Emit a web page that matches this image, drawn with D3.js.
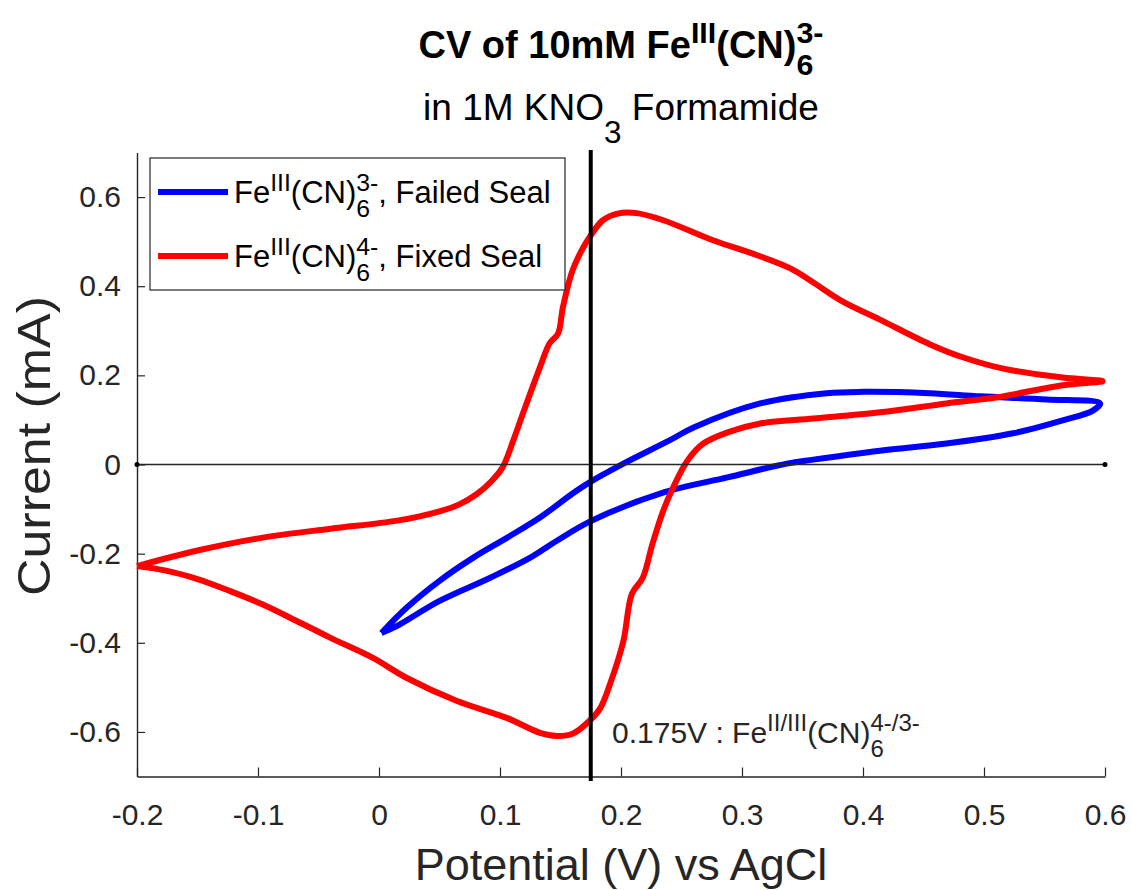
<html>
<head>
  <meta charset="utf-8"/>
  <script src="https://cdn.jsdelivr.net/npm/d3@7"></script>
  <style>
    body { margin: 0; background: #fff; }
    text { font-family: "Liberation Sans", Arial, Helvetica, sans-serif; white-space: pre; }
  </style>
</head>
<body>
<div id="chart"></div>
<script>
// data (V vs AgCl, mA)
var redV = [-0.200,-0.150,-0.096,-0.040,0.015,0.050,0.066,0.080,0.092,0.102,0.111,0.119,0.133,0.141,0.148,0.152,0.160,0.169,0.174,0.185,0.199,0.213,0.235,0.276,0.312,0.340,0.358,0.383,0.414,0.455,0.483,0.516,0.565,0.598,
            0.565,0.511,0.469,0.414,0.359,0.315,0.288,0.268,0.255,0.243,0.235,0.226,0.218,0.209,0.202,0.191,0.183,0.174,0.160,0.147,0.133,0.106,0.064,0.023,-0.005,-0.040,-0.068,-0.096,-0.123,-0.150,-0.176,-0.200];
var redI = [-0.228,-0.193,-0.164,-0.144,-0.126,-0.105,-0.090,-0.068,-0.040,-0.007,0.054,0.115,0.218,0.272,0.294,0.353,0.436,0.488,0.510,0.548,0.564,0.564,0.548,0.503,0.470,0.440,0.410,0.366,0.325,0.270,0.240,0.215,0.195,0.187,
            0.178,0.151,0.137,0.117,0.103,0.092,0.072,0.047,0.009,-0.052,-0.103,-0.178,-0.254,-0.290,-0.396,-0.492,-0.546,-0.575,-0.604,-0.609,-0.602,-0.569,-0.530,-0.479,-0.434,-0.389,-0.351,-0.314,-0.284,-0.257,-0.238,-0.228];

var blueV = [0.002,0.023,0.050,0.078,0.106,0.133,0.160,0.174,0.202,0.240,0.260,0.315,0.370,0.400,0.455,0.497,0.552,0.596,
             0.590,0.565,0.524,0.469,0.414,0.359,0.337,0.288,0.236,0.175,0.147,0.125,0.092,0.050,0.015,0.002];
var blueI = [-0.378,-0.321,-0.261,-0.209,-0.164,-0.119,-0.065,-0.040,0.002,0.054,0.083,0.137,0.160,0.163,0.160,0.153,0.146,0.137,
             0.121,0.099,0.070,0.047,0.031,0.011,0.002,-0.029,-0.062,-0.127,-0.171,-0.209,-0.254,-0.306,-0.362,-0.378];

var xTicks = [-0.2,-0.1,0,0.1,0.2,0.3,0.4,0.5,0.6];
var yTicks = [-0.6,-0.4,-0.2,0,0.2,0.4,0.6];
var markV = 0.175;

var W = 1132, H = 890;
var ink = '#262626';

var svg = d3.select('#chart').append('svg')
  .attr('width', W).attr('height', H);

var x = d3.scaleLinear().domain([-0.2, 0.6]).range([137, 1105]);
var y = d3.scaleLinear().domain([-0.7, 0.7]).range([776.5, 152.5]);

// text with sub/superscripts; parts are {t}, {sup}, {sub}, or {sub,sup} stacked
function richText(parent, parts, px, py, size, anchor, weight, color) {
  var g = parent.append('g')
    .style('font-weight', weight || 'normal')
    .attr('fill', color || ink);
  var cx = 0;
  parts.forEach(function(p) {
    if (p.t !== undefined) {
      var t = g.append('text').attr('x', cx).attr('y', 0)
        .style('font-size', size + 'px').text(p.t);
      cx += t.node().getComputedTextLength();
    } else {
      var w = 0;
      var s = p.scale || 0.8;
      if (p.sup) {
        var a = g.append('text').attr('x', cx).attr('y', -size * 0.4)
          .style('font-size', size * s + 'px').text(p.sup);
        w = Math.max(w, a.node().getComputedTextLength());
      }
      if (p.sub) {
        var b = g.append('text').attr('x', cx).attr('y', size * (p.subDy || 0.45))
          .style('font-size', size * s + 'px').text(p.sub);
        w = Math.max(w, b.node().getComputedTextLength());
      }
      cx += w;
    }
  });
  var ox = anchor === 'middle' ? px - cx / 2 : px;
  g.attr('transform', 'translate(' + ox + ',' + py + ')');
  return g;
}

function fmt(d) { return String(d); }

// axes
var xAxis = svg.append('g')
  .attr('transform', 'translate(0,' + y(-0.7) + ')')
  .call(d3.axisBottom(x).tickValues(xTicks).tickSizeInner(-9).tickSizeOuter(0)
    .tickPadding(27).tickFormat(fmt));
var yAxis = svg.append('g')
  .attr('transform', 'translate(' + x(-0.2) + ',0)')
  .call(d3.axisLeft(y).tickValues(yTicks).tickSizeInner(-8).tickSizeOuter(0)
    .tickPadding(16).tickFormat(fmt));

[xAxis, yAxis].forEach(function(a) {
  a.select('.domain').attr('stroke', ink).attr('stroke-width', 1.4);
  a.selectAll('.tick line').attr('stroke', ink).attr('stroke-width', 1.2);
  a.selectAll('.tick text').attr('fill', ink)
    .style('font-size', '30px')
    .style('font-family', '"Liberation Sans", Arial, sans-serif');
});

// curves
var line = d3.line().curve(d3.curveCatmullRom.alpha(0.5))
  .x(function(d) { return x(d[0]); })
  .y(function(d) { return y(d[1]); });

var blueData = d3.zip(blueV, blueI);
var redData = d3.zip(redV, redI);

svg.append('path').datum(blueData).attr('d', line)
  .attr('fill', 'none').attr('stroke', '#0000ff').attr('stroke-width', 6)
  .attr('stroke-linejoin', 'round');
svg.append('path').datum(redData).attr('d', line)
  .attr('fill', 'none').attr('stroke', '#ff0000').attr('stroke-width', 6)
  .attr('stroke-linejoin', 'round');

// zero line with end dots
svg.append('line')
  .attr('x1', x(-0.2)).attr('x2', x(0.6)).attr('y1', y(0)).attr('y2', y(0))
  .attr('stroke', ink).attr('stroke-width', 1.5);
[-0.2, 0.6].forEach(function(v) {
  svg.append('circle').attr('cx', x(v)).attr('cy', y(0)).attr('r', 2.5).attr('fill', '#000');
});

// marker line at 0.175 V
svg.append('line')
  .attr('x1', x(markV)).attr('x2', x(markV))
  .attr('y1', 150).attr('y2', 781)
  .attr('stroke', '#000').attr('stroke-width', 4);

richText(svg, [{t: '0.175V : Fe'}, {sup: 'II/III'}, {t: '(CN)'}, {sub: '6', sup: '4-/3-'}],
  612, 743, 30, 'start');

// legend
var leg = svg.append('g');
leg.append('rect').attr('x', 150).attr('y', 158).attr('width', 415).attr('height', 132)
  .attr('fill', '#fff').attr('stroke', ink).attr('stroke-width', 1.2);
var legItems = [
  {color: '#0000ff', charge: '3-', label: ', Failed Seal'},
  {color: '#ff0000', charge: '4-', label: ', Fixed Seal'}
];
legItems.forEach(function(d, i) {
  var ly = 192 + i * 64;
  leg.append('line').attr('x1', 158).attr('x2', 228).attr('y1', ly).attr('y2', ly)
    .attr('stroke', d.color).attr('stroke-width', 6);
  richText(leg, [{t: 'Fe'}, {sup: 'III'}, {t: '(CN)'}, {sub: '6', sup: d.charge}, {t: d.label}],
    234, ly + 11, 31, 'start', 'normal', '#000');
});

// titles
richText(svg, [{t: 'CV of 10mM Fe'}, {sup: 'III'}, {t: '(CN)'}, {sub: '6', sup: '3-'}],
  621, 58, 38, 'middle', 'bold', '#000');
richText(svg, [{t: 'in 1M KNO'}, {sub: '3', scale: 0.85, subDy: 0.62}, {t: ' Formamide'}],
  621, 120, 37, 'middle', 'normal', '#000');

// axis labels
svg.append('text')
  .attr('x', 621).attr('y', 880).attr('text-anchor', 'middle')
  .attr('fill', ink).style('font-size', '45px')
  .text('Potential (V) vs AgCl');
svg.append('text')
  .attr('transform', 'translate(50,446) rotate(-90)').attr('text-anchor', 'middle')
  .attr('fill', ink).style('font-size', '46px')
  .attr('textLength', 300).attr('lengthAdjust', 'spacingAndGlyphs')
  .text('Current (mA)');
</script>
</body>
</html>
